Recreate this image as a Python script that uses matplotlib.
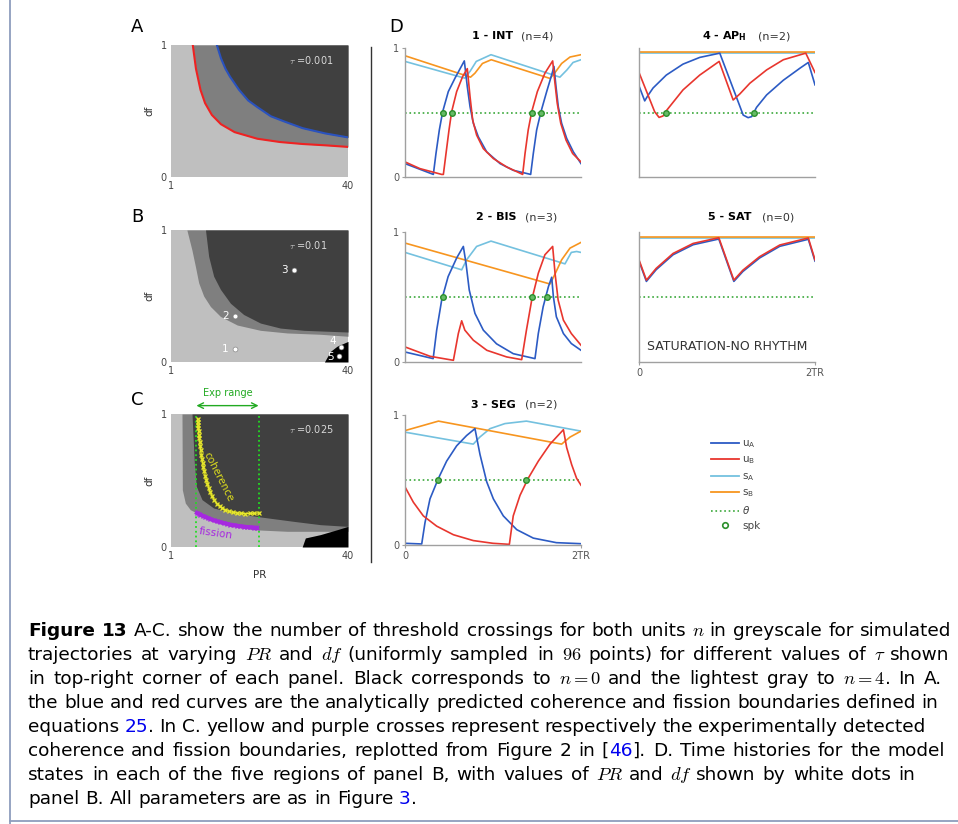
import matplotlib
matplotlib.use("Agg")
import matplotlib.pyplot as plt
from matplotlib.lines import Line2D

plt.rcParams["font.family"] = "DejaVu Sans"
plt.rcParams["mathtext.fontset"] = "cm"

W, H = 958, 824

# ---------------- panels A-C : region boundaries (PR, df)
a_mid_pr = [5.8, 6.5, 7.5, 8.5, 10, 12, 15, 20, 25, 30, 35, 40]
a_mid_df = [1.0, 0.82, 0.66, 0.56, 0.47, 0.40, 0.34, 0.29, 0.265, 0.25, 0.24, 0.228]
a_dark_pr = [11.1, 12, 13, 14, 16, 18, 20, 23, 26, 30, 35, 40]
a_dark_df = [1.0, 0.9, 0.82, 0.76, 0.66, 0.58, 0.53, 0.46, 0.42, 0.37, 0.33, 0.30]

b_mid_pr = [4.5, 5.6, 6.4, 7.1, 8.2, 9.7, 11.9, 15.6, 20.7, 26.6, 33.9, 40]
b_mid_df = [1.0, 0.85, 0.72, 0.60, 0.50, 0.42, 0.345, 0.28, 0.24, 0.22, 0.21, 0.195]
b_dark_pr = [8.6, 9.3, 10.4, 11.9, 14.1, 17.0, 20.7, 25.1, 30.3, 40]
b_dark_df = [1.0, 0.80, 0.65, 0.55, 0.445, 0.36, 0.295, 0.257, 0.24, 0.227]
b_black_pr = [34.8, 36.1, 37.6, 40]
b_black_df = [0.0, 0.08, 0.12, 0.156]
b_pts_pr = [15.0, 15.0, 28.0, 38.5, 38.1]
b_pts_df = [0.098, 0.348, 0.70, 0.11, 0.043]
b_pts_lab = ["1", "2", "3", "4", "5"]

c_mid_pr = [3.42, 3.5, 4.16, 5.26, 7.46, 11.9, 19.2, 26.6, 40]
c_mid_df = [1.0, 0.43, 0.33, 0.28, 0.243, 0.18, 0.13, 0.118, 0.118]
c_dark_pr = [5.63, 6.14, 6.58, 7.83, 10.4, 14.8, 20.7, 28.0, 33.9, 40]
c_dark_df = [1.0, 0.63, 0.456, 0.356, 0.293, 0.256, 0.226, 0.193, 0.168, 0.155]
c_black_pr = [29.9, 30.6, 33.9, 37.6, 40]
c_black_df = [0.0, 0.068, 0.093, 0.13, 0.155]
coh_pr = [6.88, 6.9, 6.95, 7.02, 7.10, 7.17, 7.24, 7.35, 7.46, 7.57, 7.68, 7.83, 7.98,
          8.15, 8.34, 8.55, 8.79, 9.03, 9.30, 9.65, 10.03, 10.55, 11.14, 11.7, 12.24,
          12.95, 13.71, 14.6, 15.54, 16.45, 17.38, 18.3, 19.2, 20.3]
coh_df = [0.962, 0.94, 0.920, 0.895, 0.870, 0.845, 0.820, 0.788, 0.757, 0.726, 0.694,
          0.663, 0.632, 0.600, 0.569, 0.537, 0.506, 0.475, 0.444, 0.412, 0.381, 0.352,
          0.326, 0.308, 0.293, 0.279, 0.268, 0.261, 0.256, 0.253, 0.251, 0.252, 0.253, 0.256]
fis_pr = [6.73, 7.1, 7.46, 8.0, 8.57, 9.1, 9.67, 10.4, 11.14, 11.9, 12.6, 13.3, 14.07,
          14.8, 15.54, 16.3, 17.0, 17.7, 18.5, 19.2, 19.95]
fis_df = [0.256, 0.249, 0.243, 0.234, 0.226, 0.218, 0.21, 0.201, 0.193, 0.186, 0.18,
          0.174, 0.168, 0.164, 0.16, 0.156, 0.153, 0.15, 0.148, 0.146, 0.145]
exp_range = [6.6, 20.3]

# ---------------- panel D : time histories (t in units of TR)
d1_sB_t = [0, 0.745, 0.795, 0.88, 0.98, 1.648, 1.70, 1.78, 1.875, 2.0]
d1_sB = [0.94, 0.774, 0.805, 0.88, 0.909, 0.764, 0.805, 0.88, 0.93, 0.948]
d1_sA_t = [0, 0.68, 0.74, 0.81, 0.977, 1.76, 1.84, 1.91, 2.0]
d1_sA = [0.896, 0.766, 0.82, 0.896, 0.948, 0.774, 0.83, 0.888, 0.909]
d1_uA_t = [0, 0.322, 0.352, 0.39, 0.428, 0.492, 0.568, 0.674, 0.708, 0.739, 0.777,
           0.833, 0.928, 1.08, 1.23, 1.428, 1.458, 1.496, 1.545, 1.61, 1.667, 1.693,
           1.716, 1.742, 1.78, 1.837, 1.913, 2.0]
d1_uA = [0.104, 0.02, 0.182, 0.364, 0.506, 0.662, 0.766, 0.90, 0.70, 0.545, 0.416,
         0.312, 0.195, 0.104, 0.052, 0.02, 0.182, 0.364, 0.506, 0.662, 0.792, 0.857,
         0.70, 0.545, 0.416, 0.30, 0.195, 0.104]
d1_uB_t = [0, 0.17, 0.417, 0.436, 0.466, 0.5, 0.53, 0.587, 0.655, 0.708, 0.739, 0.769,
           0.814, 0.89, 1.004, 1.155, 1.337, 1.364, 1.4, 1.44, 1.504, 1.59, 1.678,
           1.70, 1.73, 1.77, 1.83, 1.905, 2.0]
d1_uB = [0.117, 0.065, 0.02, 0.02, 0.182, 0.364, 0.506, 0.662, 0.779, 0.84, 0.623, 0.442,
         0.325, 0.22, 0.143, 0.078, 0.02, 0.182, 0.364, 0.506, 0.662, 0.805, 0.90,
         0.753, 0.571, 0.416, 0.286, 0.182, 0.117]
d1_spk = [0.428, 0.53, 1.44, 1.545]

d2_sB_t = [0, 1.648, 1.70, 1.78, 1.875, 2.0]
d2_sB = [0.915, 0.60, 0.67, 0.786, 0.876, 0.92]
d2_sA_t = [0, 0.644, 0.70, 0.814, 0.977, 1.818, 1.89, 1.95, 2.0]
d2_sA = [0.843, 0.709, 0.786, 0.889, 0.93, 0.755, 0.843, 0.85, 0.843]
d2_uA_t = [0, 0.32, 0.36, 0.417, 0.49, 0.587, 0.663, 0.693, 0.73, 0.795, 0.89, 1.04,
           1.23, 1.477, 1.515, 1.57, 1.63, 1.667, 1.686, 1.72, 1.80, 1.89, 2.0]
d2_uA = [0.077, 0.026, 0.245, 0.477, 0.657, 0.80, 0.889, 0.76, 0.554, 0.374, 0.245, 0.14,
         0.064, 0.026, 0.22, 0.425, 0.58, 0.652, 0.503, 0.348, 0.219, 0.142, 0.09]
d2_uB_t = [0, 0.284, 0.55, 0.606, 0.644, 0.68, 0.776, 0.93, 1.155, 1.326, 1.38, 1.44,
           1.515, 1.59, 1.678, 1.705, 1.74, 1.80, 1.89, 2.0]
d2_uB = [0.116, 0.044, 0.013, 0.219, 0.317, 0.245, 0.168, 0.09, 0.039, 0.018, 0.245,
         0.477, 0.683, 0.825, 0.889, 0.683, 0.477, 0.322, 0.219, 0.129]
d2_spk = [0.436, 1.44, 1.61]

d3_sB_t = [0, 0.38, 1.78, 1.875, 2.0]
d3_sB = [0.88, 0.953, 0.776, 0.83, 0.876]
d3_sA_t = [0, 0.776, 0.85, 0.966, 1.136, 1.38, 2.0]
d3_sA = [0.868, 0.776, 0.83, 0.895, 0.934, 0.953, 0.876]
d3_uA_t = [0, 0.19, 0.227, 0.284, 0.38, 0.473, 0.587, 0.70, 0.795, 0.852, 0.928, 1.004,
           1.117, 1.27, 1.458, 1.72, 2.0]
d3_uA = [0.013, 0.008, 0.171, 0.355, 0.513, 0.645, 0.763, 0.842, 0.895, 0.697, 0.487,
         0.355, 0.224, 0.118, 0.053, 0.018, 0.01]
d3_uB_t = [0, 0.095, 0.208, 0.36, 0.55, 0.776, 1.0, 1.186, 1.23, 1.307, 1.40, 1.515,
           1.648, 1.80, 1.837, 1.894, 1.95, 2.0]
d3_uB = [0.447, 0.329, 0.224, 0.145, 0.079, 0.034, 0.013, 0.005, 0.224, 0.382, 0.513,
         0.645, 0.776, 0.887, 0.75, 0.618, 0.513, 0.46]
d3_spk = [0.38, 1.38]

d4_sB_t = [0, 2.0]
d4_sB = [0.966, 0.966]
d4_sA_t = [0, 2.0]
d4_sA = [0.958, 0.958]
d4_uA_t = [0, 0.065, 0.10, 0.16, 0.31, 0.50, 0.69, 0.918, 1.184, 1.24, 1.28, 1.336,
           1.45, 1.64, 1.83, 1.924, 2.0]
d4_uA = [0.706, 0.59, 0.63, 0.69, 0.79, 0.875, 0.927, 0.96, 0.48, 0.46, 0.468, 0.54,
         0.636, 0.75, 0.844, 0.888, 0.714]
d4_uB_t = [0, 0.178, 0.228, 0.273, 0.311, 0.50, 0.69, 0.911, 1.07, 1.146, 1.26, 1.45,
           1.64, 1.895, 2.0]
d4_uB = [0.81, 0.506, 0.462, 0.473, 0.514, 0.675, 0.79, 0.896, 0.597, 0.644, 0.727,
         0.83, 0.909, 0.96, 0.81]
d4_spk = [0.311, 1.31]

d5_sB_t = [0, 2.0]
d5_sB = [0.96, 0.96]
d5_sA_t = [0, 2.0]
d5_sA = [0.955, 0.955]
d5_uA_t = [0, 0.084, 0.195, 0.387, 0.615, 0.907, 1.078, 1.18, 1.37, 1.60, 1.924, 2.0]
d5_uA = [0.776, 0.62, 0.71, 0.825, 0.902, 0.946, 0.62, 0.696, 0.80, 0.89, 0.944, 0.776]
d5_uB_t = [0, 0.084, 0.195, 0.387, 0.615, 0.907, 1.078, 1.18, 1.37, 1.60, 1.924, 2.0]
d5_uB = [0.786, 0.63, 0.72, 0.835, 0.912, 0.956, 0.63, 0.706, 0.81, 0.90, 0.954, 0.786]
d5_spk = []

theta = 0.5

C_UA, C_UB, C_SA, C_SB = "#2c5bc4", "#e8362e", "#74c1df", "#f7951f"
C_TH = "#3aa83a"
LIGHT, MID, DARK = "#bfbfbf", "#7f7f7f", "#404040"

fig = plt.figure(figsize=(W / 100, H / 100), dpi=100)


def add_ax(x0, y0, x1, y1):
    return fig.add_axes([x0 / W, 1 - y1 / H, (x1 - x0) / W, (y1 - y0) / H])


def map_panel(ax, tau, mid_pr, mid_df, dark_pr, dark_df, blk_pr=None, blk_df=None):
    ax.set_facecolor(LIGHT)
    ax.fill_between(mid_pr, mid_df, 1, color=MID, lw=0)
    ax.fill_between(dark_pr, dark_df, 1, color=DARK, lw=0)
    if blk_pr is not None:
        ax.fill_between(blk_pr, 0, blk_df, color="black", lw=0)
    ax.set_xlim(1, 40)
    ax.set_ylim(0, 1)
    ax.set_xticks([1, 40])
    ax.set_yticks([0, 1])
    ax.tick_params(length=0, labelsize=7, labelcolor="#444444", pad=3)
    for s in ax.spines.values():
        s.set_visible(False)
    ax.text(-0.12, 0.5, "df", transform=ax.transAxes, rotation=90, ha="center",
            va="center", fontsize=7.5, color="#333333")
    ax.text(27.0, 0.887, r"$\tau$ =" + tau, fontsize=7, color="#d8d8d8", va="center")


# ---- A
axA = add_ax(171, 45, 348, 177)
map_panel(axA, "0.001", a_mid_pr, a_mid_df, a_dark_pr, a_dark_df)
axA.plot(a_mid_pr, a_mid_df, color="#ee2222", lw=1.5)
axA.plot(a_dark_pr, a_dark_df, color="#2a52be", lw=1.5)

# ---- B
axB = add_ax(171, 230, 348, 362)
map_panel(axB, "0.01", b_mid_pr, b_mid_df, b_dark_pr, b_dark_df, b_black_pr, b_black_df)
axB.plot(b_pts_pr, b_pts_df, "o", ms=3.5, mfc="white", mec="#777777", mew=0.4)
offs = [(-9, 0), (-9, 0), (-9, 0), (-8, 6), (-9, -1)]
for px, py, lab, off in zip(b_pts_pr, b_pts_df, b_pts_lab, offs):
    axB.annotate(lab, (px, py), xytext=off, textcoords="offset pixels", ha="center",
                 va="center", fontsize=7.5, color="white")

# ---- C
axC = add_ax(171, 414, 348, 547)
map_panel(axC, "0.025", c_mid_pr, c_mid_df, c_dark_pr, c_dark_df, c_black_pr, c_black_df)
for xv in exp_range:
    axC.axvline(xv, color="#22dd22", ls=":", lw=1.3)
axC.plot(coh_pr, coh_df, color="#8a8a1a", lw=2.6, alpha=0.6)
axC.plot(coh_pr, coh_df, color="#e8e82c", lw=0.8, marker="x", ms=3.2, mew=0.9)
axC.plot(fis_pr, fis_df, color="#a628e0", lw=3.0, marker="x", ms=3.5, mew=0.9)
axC.text(11.5, 0.53, "coherence", rotation=-63, color="#dede1e", fontsize=7.5,
         ha="center", va="center")
axC.text(10.8, 0.105, "fission", rotation=-8, color="#a628e0", fontsize=7.5,
         ha="center", va="center")
axC.annotate("", xy=(exp_range[0], 1.063), xytext=(exp_range[1], 1.063),
             arrowprops=dict(arrowstyle="<->", color="#22aa22", lw=1.0,
                             shrinkA=0, shrinkB=0), annotation_clip=False)
axC.text(sum(exp_range) / 2, 1.16, "Exp range", color="#22aa22", fontsize=7,
         ha="center", va="center", clip_on=False)
axC.set_xlabel("PR", fontsize=7.5, color="#333333", labelpad=6)


# ---- D
def d_panel(box, bold, rest, tx, ty, series, spk, yt=False, xt=False):
    ax = add_ax(*box)
    (sAt, sA), (sBt, sB), (uAt, uA), (uBt, uB) = series
    ax.axhline(theta, color=C_TH, ls=":", lw=1.2)
    ax.plot(sAt, sA, color=C_SA, lw=1.2)
    ax.plot(sBt, sB, color=C_SB, lw=1.2)
    ax.plot(uAt, uA, color=C_UA, lw=1.2)
    ax.plot(uBt, uB, color=C_UB, lw=1.2)
    if spk:
        ax.plot(spk, [theta] * len(spk), "o", ms=4, mfc="#66bb66", mec="#2b8f2b", mew=1.0)
    ax.set_xlim(0, 2)
    ax.set_ylim(0, 1)
    for s in ["top", "right"]:
        ax.spines[s].set_visible(False)
    for s in ["left", "bottom"]:
        ax.spines[s].set_color("#a0a0a0")
        ax.spines[s].set_linewidth(1.0)
    ax.tick_params(length=2, color="#a0a0a0", labelsize=7, labelcolor="#555555", pad=2)
    if yt:
        ax.set_yticks([0, 1])
    else:
        ax.set_yticks([])
    if xt:
        ax.set_xticks([0, 2])
        ax.set_xticklabels(["0", "2TR"])
    else:
        ax.set_xticks([])
    ax.text(tx[0], ty, bold, transform=ax.transAxes, ha="right", va="center",
            fontsize=8, fontweight="bold", math_fontfamily="dejavusans")
    ax.text(tx[1], ty, rest, transform=ax.transAxes, ha="left", va="center",
            fontsize=8, color="#333333")
    return ax


d_panel((405, 48, 581, 177), "1 - INT", "(n=4)", (0.612, 0.659), 1.093,
        [(d1_sA_t, d1_sA), (d1_sB_t, d1_sB), (d1_uA_t, d1_uA), (d1_uB_t, d1_uB)],
        d1_spk, yt=True)
d_panel((639, 48, 815, 177), r"4 - AP$_\mathbf{H}$", "(n=2)", (0.614, 0.676), 1.093,
        [(d4_sA_t, d4_sA), (d4_sB_t, d4_sB), (d4_uA_t, d4_uA), (d4_uB_t, d4_uB)],
        d4_spk)
d_panel((405, 232, 581, 362), "2 - BIS", "(n=3)", (0.636, 0.68), 1.115,
        [(d2_sA_t, d2_sA), (d2_sB_t, d2_sB), (d2_uA_t, d2_uA), (d2_uB_t, d2_uB)],
        d2_spk, yt=True)
ax5 = d_panel((639, 232, 815, 362), "5 - SAT", "(n=0)", (0.642, 0.699), 1.115,
              [(d5_sA_t, d5_sA), (d5_sB_t, d5_sB), (d5_uA_t, d5_uA), (d5_uB_t, d5_uB)],
              d5_spk, xt=True)
ax5.text(1.0, 0.116, "SATURATION-NO RHYTHM", ha="center", va="center", fontsize=9,
         color="#333333")
d_panel((405, 415, 581, 545), "3 - SEG", "(n=2)", (0.63, 0.682), 1.077,
        [(d3_sA_t, d3_sA), (d3_sB_t, d3_sB), (d3_uA_t, d3_uA), (d3_uB_t, d3_uB)],
        d3_spk, yt=True, xt=True)

handles = [Line2D([], [], color=C_UA, lw=1.3), Line2D([], [], color=C_UB, lw=1.3),
           Line2D([], [], color=C_SA, lw=1.3), Line2D([], [], color=C_SB, lw=1.3),
           Line2D([], [], color=C_TH, ls=":", lw=1.2),
           Line2D([], [], ls="none", marker="o", ms=4, mfc="white", mec="#2b8f2b", mew=1.2)]
labels = [r"u$_\mathrm{A}$", r"u$_\mathrm{B}$", r"s$_\mathrm{A}$", r"s$_\mathrm{B}$",
          r"$\theta$", "spk"]
leg = fig.legend(handles, labels, loc="upper left", bbox_to_anchor=(706 / W, 1 - 433 / H),
                 frameon=False, fontsize=7.5, handlelength=2.7, labelspacing=0.45,
                 handletextpad=0.3, borderpad=0)
for t in leg.get_texts():
    t.set_color("#444444")
    t.set_math_fontfamily("dejavusans")

# panel letters, separator and frame
for lab, x, y in [("A", 137, 27), ("B", 137, 217), ("C", 137, 400), ("D", 396, 27)]:
    fig.text(x / W, 1 - y / H, lab, fontsize=13, ha="center", va="center")
fig.add_artist(Line2D([371 / W, 371 / W], [1 - 47 / H, 1 - 562 / H], color="#333333", lw=1.0))
fig.add_artist(Line2D([10 / W, 10 / W], [0, 1], color="#8d9dbd", lw=1.3))
fig.add_artist(Line2D([10 / W, 1], [1 - 821 / H, 1 - 821 / H], color="#8d9dbd", lw=1.3))

# ---------------- caption
caption = [
    [("Figure 13", "b", False),
     ("A-C. show the number of threshold crossings for both units $n$ in greyscale for simulated", "", True)],
    [(r"trajectories at varying $PR$ and $df$ (uniformly sampled in $96$ points) for different values of $\tau$ shown", "", False)],
    [(r"in top-right corner of each panel. Black corresponds to $n=0$ and the lightest gray to $n=4$. In A.", "", False)],
    [("the blue and red curves are the analytically predicted coherence and fission boundaries defined in", "", False)],
    [("equations", "", False), ("25", "l", True),
     (". In C. yellow and purple crosses represent respectively the experimentally detected", "", False)],
    [("coherence and fission boundaries, replotted from Figure 2 in [", "", False), ("46", "l", False),
     ("]. D. Time histories for the model", "", False)],
    [(r"states in each of the five regions of panel B, with values of $PR$ and $df$ shown by white dots in", "", False)],
    [("panel B. All parameters are as in Figure", "", False), ("3", "l", True), (".", "", False)],
]
# right end of each caption line in the original (px), None = ragged
line_ends = [951.7, 949, 941.7, 938, 925, 945, 915, None]
renderer = fig.canvas.get_renderer()


def text_w(s, size, weight):
    t = fig.text(0, 0, s, fontsize=size, fontweight=weight)
    w = t.get_window_extent(renderer).width
    t.remove()
    return w


def adv(s, size, weight="normal"):
    return text_w("|" + s + "|", size, weight) - text_w("||", size, weight)


def words_of(parts):
    out = []
    for txt, st, gap in parts:
        for k, w in enumerate(txt.split(" ")):
            out.append((w, st, gap if k == 0 else True))
    return out


def natural(words, size):
    sp = adv(" ", size)
    return sum(adv(w, size, "bold" if st == "b" else "normal") + (sp if g else 0)
               for w, st, g in words)


size = 12 * (938 - 28) / natural(words_of(caption[3]), 12)
sp = adv(" ", size)
for i, parts in enumerate(caption):
    words = words_of(parts)
    ngap = sum(1 for _, _, g in words if g)
    extra = 0.0
    if line_ends[i] is not None and ngap:
        extra = (line_ends[i] - 28 - natural(words, size)) / ngap
    x = 28.0
    for w, st, g in words:
        if g:
            x += sp + extra
        wt = "bold" if st == "b" else "normal"
        fig.text(x / W, 1 - (636.5 + 23.9 * i) / H, w, fontsize=size, fontweight=wt,
                 color="#0000ee" if st == "l" else "black", va="baseline")
        x += adv(w, size, wt)

fig.savefig("out.png", dpi=100)
